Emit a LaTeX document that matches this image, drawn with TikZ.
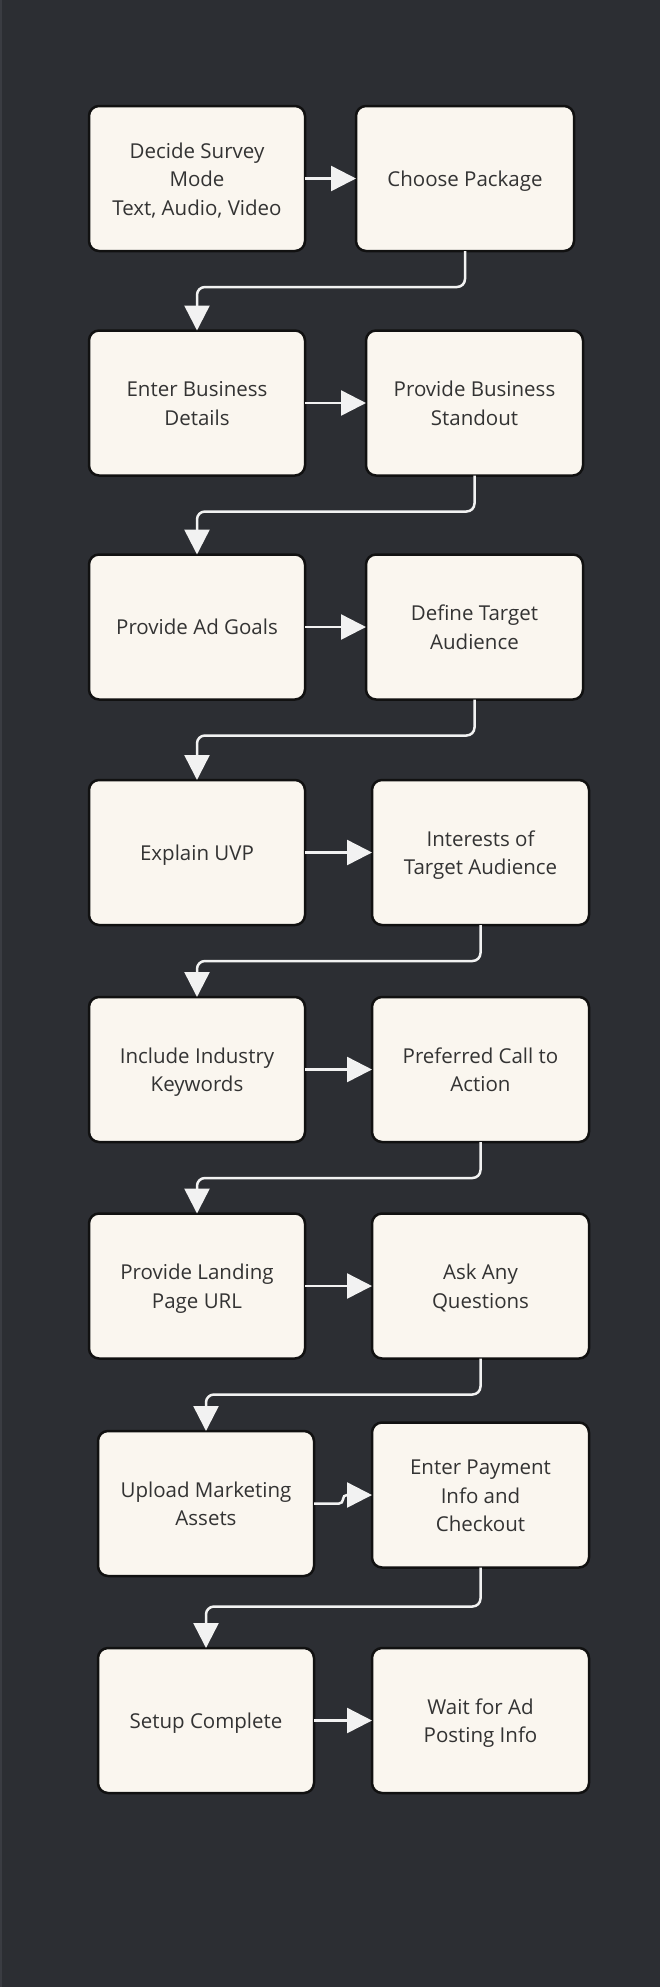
\documentclass[tikz,border=0pt]{standalone}
\usepackage{fontspec}
\setmainfont{Open Sans}
\usetikzlibrary{arrows.meta}
\definecolor{bgc}{HTML}{2C2E33}
\definecolor{edgec}{HTML}{3A3C42}
\definecolor{boxc}{HTML}{FAF6EF}
\definecolor{boxline}{HTML}{111111}
\definecolor{txtc}{HTML}{333333}
\definecolor{conc}{HTML}{F2F2F2}
\newcommand{\linestrut}{\rule[-6.5pt]{0pt}{28.5pt}}
\newcommand{\mtext}[1]{\raisebox{-2.5pt}[\height][\depth]{\begin{tabular}{@{}c@{}}#1\end{tabular}}}
\tikzset{
  stepbox/.style={draw=boxline, line width=2.5pt, fill=boxc, rounded corners=10pt,
    minimum height=145pt, inner sep=0pt, outer sep=0pt, text=txtc,
    font=\fontsize{20.5pt}{28.5pt}\selectfont},
  sline/.style={execute at begin node=\linestrut, execute at end node=\linestrut},
  lbox/.style={stepbox, minimum width=216pt},
  rbox/.style={stepbox, minimum width=217pt},
  conn/.style={draw=conc, line width=2.5pt, rounded corners=8pt,
    -{Triangle[length=25pt,width=25pt,fill=conc]}},
  hconn/.style={draw=conc, line width=2.5pt,
    -{Triangle[length=25pt,width=25pt,fill=conc]}},
}
\begin{document}
\begin{tikzpicture}[x=1pt,y=-1pt]
\fill[bgc] (0,0) rectangle (660,1987);
\fill[edgec] (0,0) rectangle (1.5,1987);
\useasboundingbox (0,0) rectangle (660,1987);

% row 1
\node[lbox] (L1) at (197,178.5) {\mtext{Decide Survey\\Mode\\Text, Audio, Video}};
\node[rbox, sline, minimum width=218pt] (R1) at (465,178.5) {Choose Package};
% row 2
\node[lbox] (L2) at (197,403) {\mtext{Enter Business\\Details}};
\node[rbox] (R2) at (474.5,403) {\mtext{Provide Business\\Standout}};
% row 3
\node[lbox, sline] (L3) at (197,627) {Provide Ad Goals};
\node[rbox] (R3) at (474.5,627) {\mtext{Define Target\\Audience}};
% row 4
\node[lbox, sline] (L4) at (197,852.5) {Explain UVP};
\node[rbox] (R4) at (480.5,852.5) {\mtext{Interests of\\Target Audience}};
% row 5
\node[lbox] (L5) at (197,1069.5) {\mtext{Include Industry\\Keywords}};
\node[rbox] (R5) at (480.5,1069.5) {\mtext{Preferred Call to\\Action}};
% row 6
\node[lbox] (L6) at (197,1286) {\mtext{Provide Landing\\Page URL}};
\node[rbox] (R6) at (480.5,1286) {\mtext{Ask Any\\Questions}};
% row 7
\node[lbox] (L7) at (206,1503.5) {\mtext{Upload Marketing\\Assets}};
\node[rbox] (R7) at (480.5,1495) {\mtext{Enter Payment\\Info and\\Checkout}};
% row 8
\node[lbox, sline] (L8) at (206,1720.5) {Setup Complete};
\node[rbox] (R8) at (480.5,1720.5) {\mtext{Wait for Ad\\Posting Info}};

% horizontal arrows
\draw[hconn] (L1.east) -- (R1.west);
\draw[hconn] (L2.east) -- (R2.west);
\draw[hconn] (L3.east) -- (R3.west);
\draw[hconn] (L4.east) -- (R4.west);
\draw[hconn] (L5.east) -- (R5.west);
\draw[hconn] (L6.east) -- (R6.west);
\draw[hconn, rounded corners=4pt] (L7.east) -- ++(29,0) -- ++(0,-8.5) -- (R7.west);
\draw[hconn] (L8.east) -- (R8.west);

% down connectors
\draw[conn] (R1.south) -- ++(0,36) -| (L2.north);
\draw[conn] (R2.south) -- ++(0,36) -| (L3.north);
\draw[conn] (R3.south) -- ++(0,36) -| (L4.north);
\draw[conn] (R4.south) -- ++(0,36) -| (L5.north);
\draw[conn] (R5.south) -- ++(0,36) -| (L6.north);
\draw[conn] (R6.south) -- ++(0,36) -| (L7.north);
\draw[conn] (R7.south) -- ++(0,39) -| (L8.north);
\end{tikzpicture}
\end{document}
